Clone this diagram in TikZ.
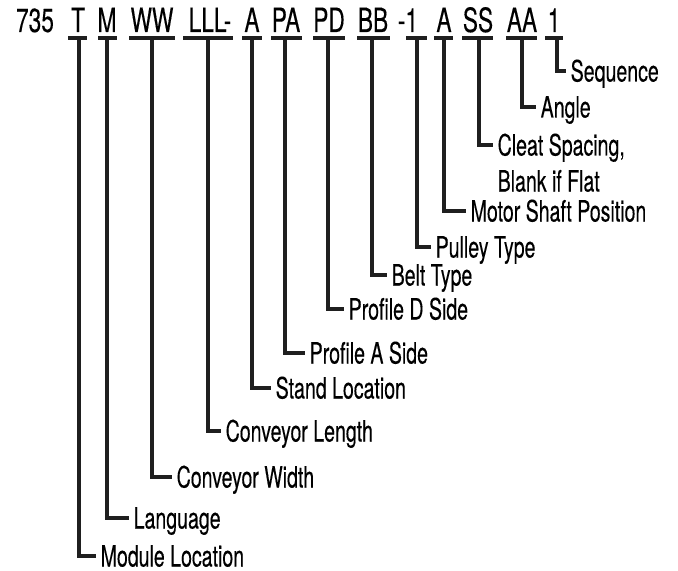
\documentclass[tikz,border=0pt]{standalone}
\usepackage{fontspec}
\newfontfamily\codefont{TeX Gyre Heros}[FakeStretch=0.68,FakeBold=0.25]
\newfontfamily\lblfont{TeX Gyre Heros}[FakeStretch=0.665,FakeBold=0.25]
\usetikzlibrary{calc}
\tikzset{code/.style={font=\codefont\fontsize{33.5}{34}\selectfont, anchor=base, inner sep=0pt},
         lbl/.style={font=\lblfont\fontsize{29.5}{30}\selectfont, anchor=west, inner xsep=4.5bp, inner ysep=0pt, text height=21bp, text depth=0pt},
         bar/.style={line width=3.2bp, draw=black!88}}

\begin{document}
\begin{tikzpicture}[x=1bp,y=-1bp]
                      \useasboundingbox (0,0) rectangle (678,571);
                      % part number
                      \node[code] (num) at (35,32) {735};
                      \node[code] (t) at (78,32) {T};      \draw[bar] (68,38) -- (87,38);   \coordinate (u-t) at (79,38);
                      \node[code] (m) at (107,32) {M};     \draw[bar] (98,38) -- (117,38);  \coordinate (u-m) at (107,38);
                      \node[code] (ww) at (152,32) {WW};   \draw[bar] (129,38) -- (175,38); \coordinate (u-ww) at (152,38);
                      \node[code] (lll) at (210,32) {LLL-};\draw[bar] (183,38) -- (233,38); \coordinate (u-lll) at (208,38);
                      \node[code] (a) at (252,32) {A};     \draw[bar] (242,38) -- (262,38); \coordinate (u-a) at (252,38);
                      \node[code] (pa) at (286,32) {PA};   \draw[bar] (271,38) -- (302,38); \coordinate (u-pa) at (285,38);
                      \node[code] (pd) at (329,32) {PD};   \draw[bar] (313,38) -- (345,38); \coordinate (u-pd) at (328,38);
                      \node[code] (bb) at (373,32) {BB};   \draw[bar] (357,38) -- (390,38); \coordinate (u-bb) at (372,38);
                      \node[code] (p) at (408,32) {-1};    \draw[bar] (406,38) -- (427,38); \coordinate (u-p) at (417,38);
                      \node[code] (ms) at (444,32) {A};    \draw[bar] (434,38) -- (453,38); \coordinate (u-ms) at (444,38);
                      \node[code] (ss) at (478,32) {SS};   \draw[bar] (462,38) -- (493,38); \coordinate (u-ss) at (479,38);
                      \node[code] (aa) at (522,32) {AA};   \draw[bar] (506,38) -- (537,38); \coordinate (u-aa) at (522,38);
                      \node[code] (sq) at (554,32) {1};    \draw[bar] (545,38) -- (563,38); \coordinate (u-sq) at (557,38);
                      % legend
                      \node[lbl] (l-t) at (96,556) {Module Location};
                      \node[lbl] (l-m) at (129,518) {Language};
                      \node[lbl] (l-ww) at (172,477) {Conveyor Width};
                      \node[lbl] (l-lll) at (221,431) {Conveyor Length};
                      \node[lbl] (l-a) at (271,388) {Stand Location};
                      \node[lbl] (l-pa) at (305,353) {Profile A Side};
                      \node[lbl] (l-pd) at (344,309) {Profile D Side};
                      \node[lbl] (l-bb) at (387,275) {Belt Type};
                      \node[lbl] (l-p) at (431,247) {Pulley Type};
                      \node[lbl] (l-ms) at (466,211) {Motor Shaft Position};
                      \node[lbl] (l-ss) at (493,145) {Cleat Spacing,};
                      \node[lbl] (l-ss2) at ([yshift=-36bp]l-ss.west) {Blank if Flat};
                      \node[lbl] (l-aa) at (536,107) {Angle};
                      \node[lbl] (l-sq) at (566,71) {Sequence};
                      \draw[bar] (u-t) |- (l-t.west);
                      \draw[bar] (u-m) |- (l-m.west);
                      \draw[bar] (u-ww) |- (l-ww.west);
                      \draw[bar] (u-lll) |- (l-lll.west);
                      \draw[bar] (u-a) |- (l-a.west);
                      \draw[bar] (u-pa) |- (l-pa.west);
                      \draw[bar] (u-pd) |- (l-pd.west);
                      \draw[bar] (u-bb) |- (l-bb.west);
                      \draw[bar] (u-p) |- (l-p.west);
                      \draw[bar] (u-ms) |- (l-ms.west);
                      \draw[bar] (u-ss) |- (l-ss.west);
                      \draw[bar] (u-aa) |- (l-aa.west);
                      \draw[bar] (u-sq) |- (l-sq.west);
\end{tikzpicture}
\end{document}
